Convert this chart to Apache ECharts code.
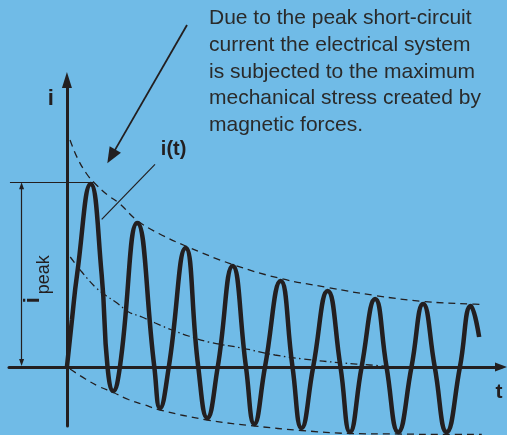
<!DOCTYPE html>
<html>
<head>
<meta charset="utf-8">
<script src="https://cdn.jsdelivr.net/npm/echarts@6/dist/echarts.min.js"></script>
<style>
html,body{margin:0;padding:0;background:#70bbe7;}
#chart{width:507px;height:435px;}
</style>
</head>
<body>
<div id="chart"></div>
<script>
// t in ms, i in arbitrary units
var currentPts = [[0,0],[2.1,4.7],[4.3,9.3],[10.0,18.3],[14.6,9.3],[17.1,0],[19.5,-2.4],[22.3,0],
    [29.6,14.4],[36.8,0],[39.2,-4.1],[42.9,0],[50.0,11.9],[55.3,0],[59.1,-5.1],[63.5,0],
    [69.8,10.1],[75.4,0],[78.9,-5.7],[83.4,0],[90.0,8.6],[95.0,0],[98.8,-6.1],[103.7,0],
    [109.8,7.6],[115.2,0],[119.2,-6.5],[124.1,0],[129.8,6.8],[134.6,0],[139.5,-6.5],[145.1,0],
    [150.0,6.3],[154.9,0],[159.9,-6.5],[165.5,0],[170.1,6.1],[173.6,3.0]];
var upperEnv = [[1.3,22.7],[4.4,20.9],[8.2,19.35],[11.6,18.4],[17.1,17.2],[22.1,16.35],[29.6,14.65],
    [38.7,13.35],[50.0,12.1],[69.8,10.25],[90.0,8.85],[109.8,7.95],[129.8,7.15],[150.0,6.55],
    [170.1,6.3],[175.6,6.25]];
var lowerEnv = [[1.3,-0.2],[7.8,-1.2],[13.5,-1.95],[19.5,-2.55],[25.9,-3.25],[32.2,-3.75],[39.2,-4.3],
    [59.1,-5.3],[78.9,-5.9],[98.8,-6.35],[119.2,-6.65],[139.5,-6.7],[159.9,-6.75],[174.7,-6.75]];
var dcPts = [[1.4,11.0],[6.3,9.5],[11.9,8.0],[16.1,7.2],[21.1,6.4],[26.0,5.5],[31.6,5.0],[37.2,4.4],
    [44.2,3.7],[51.2,3.1],[59.7,2.5],[73.6,1.9],[87.6,1.2],[99.5,0.8],[116.2,0.4],[127.6,0.2],[138.1,0]];
var iPeak = 18.47;
var noteLines = ['Due to the peak short-circuit', 'current the electrical system',
    'is subjected to the maximum', 'mechanical stress created by', 'magnetic forces.'];

var ink = '#231f20';
var fontName = '"Liberation Sans", Arial, sans-serif';

var myChart = echarts.init(document.getElementById('chart'));

var option = {
    backgroundColor: '#70bbe7',
    animation: false,
    grid: { left: 9, right: 6, top: 80, bottom: 9 },
    xAxis: {
        type: 'value', min: -24.4, max: 182.8,
        axisLine: { onZero: true, symbol: ['none', 'triangle'], symbolSize: [9, 12],
            lineStyle: { color: ink, width: 3 } },
        axisTick: { show: false }, axisLabel: { show: false }, splitLine: { show: false }
    },
    yAxis: {
        type: 'value', min: -5.9, max: 28.7,
        axisLine: { onZero: true, symbol: ['none', 'triangle'], symbolSize: [10, 16],
            lineStyle: { color: ink, width: 3 } },
        axisTick: { show: false }, axisLabel: { show: false }, splitLine: { show: false }
    },
    series: [
        {
            name: 'upper', type: 'line', data: upperEnv, smooth: 0.4, showSymbol: false, clip: false, silent: true,
            lineStyle: { color: ink, width: 1.3, type: [7, 5] },
            markLine: {
                silent: true, symbol: 'none', label: { show: false },
                lineStyle: { color: ink, width: 1.2, type: 'solid' },
                data: [
                    // i_peak reference line
                    [{ coord: [-24.0, iPeak] }, { coord: [11.1, iPeak] }],
                    // i_peak double arrow
                    [{ coord: [-19.1, 18.12], symbol: 'triangle', symbolSize: [5, 7] },
                     { coord: [-19.1, 0.45], symbol: 'triangle', symbolSize: [5, 7] }],
                    // i(t) leader
                    [{ x: 155, y: 164.3 }, { x: 101.7, y: 219.3 }],
                    // annotation arrow
                    [{ x: 187, y: 25 }, { x: 111.3, y: 156.4, symbol: 'triangle', symbolSize: [13, 16],
                        lineStyle: { width: 1.8 } }]
                ]
            }
        },
        {
            name: 'lower', type: 'line', data: lowerEnv, smooth: 0.4, showSymbol: false, clip: false, silent: true,
            lineStyle: { color: ink, width: 1.3, type: [7, 5] }
        },
        {
            name: 'dc', type: 'line', data: dcPts, smooth: 0.4, showSymbol: false, clip: false, silent: true,
            lineStyle: { color: ink, width: 1.3, type: [7, 3.5, 1.5, 3.5] }
        },
        {
            name: 'i(t)', type: 'line', data: currentPts, smooth: 0.5, showSymbol: false, clip: false, silent: true, z: 5,
            lineStyle: { color: ink, width: 4.5 }
        }
    ],
    graphic: [
        { type: 'text', x: 50.8, y: 99, style: { text: 'i', font: 'bold 22px ' + fontName, fill: ink, align: 'center', verticalAlign: 'middle' } },
        { type: 'text', x: 499, y: 392.6, style: { text: 't', font: 'bold 21px ' + fontName, fill: ink, align: 'center', verticalAlign: 'middle' } },
        { type: 'text', x: 173.6, y: 149.7, style: { text: 'i(t)', font: 'bold 20px ' + fontName, fill: ink, align: 'center', verticalAlign: 'middle' } },
        { type: 'text', x: 33, y: 300.3, rotation: Math.PI / 2, style: { text: 'i', font: 'bold 22px ' + fontName, fill: ink, align: 'center', verticalAlign: 'middle' } },
        { type: 'text', x: 43.7, y: 274.7, rotation: Math.PI / 2, style: { text: 'peak', font: '18px ' + fontName, fill: ink, align: 'center', verticalAlign: 'middle' } },
        { type: 'text', x: 209, y: 5, style: { text: noteLines.join('\n'), font: '21px ' + fontName, lineHeight: 26.7, fill: '#2a2a2a', align: 'left', verticalAlign: 'top' } }
    ]
};

myChart.setOption(option);
</script>
</body>
</html>
